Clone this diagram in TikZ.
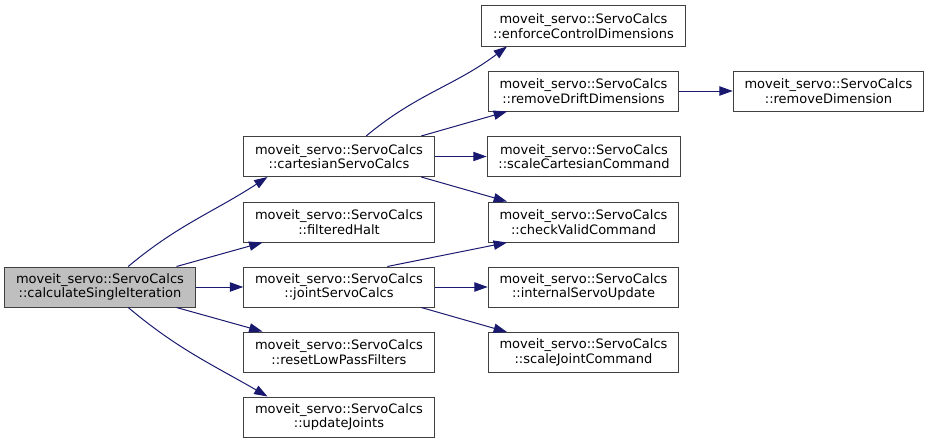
\documentclass[tikz,border=0pt]{standalone}
\usepackage{fontspec}
\newfontfamily\graphfont{DejaVu Sans}
\usetikzlibrary{arrows.meta}
\definecolor{edgeblue}{HTML}{191970}
\definecolor{rootgray}{HTML}{BFBFBF}
\newcommand{\svc}{moveit\_servo::ServoCalcs\\::}

\begin{document}
\begin{tikzpicture}[x=0.75pt,y=0.75pt,
  fn/.style={draw=black!75,line width=0.75pt,inner xsep=8.5pt,inner ysep=0pt,minimum height=30pt,
    align=center,font=\graphfont\fontsize{9.75}{11}\selectfont},
  call/.style={edgeblue,line width=0.75pt,-{Triangle[length=10pt,width=7pt]}}]
\useasboundingbox (0,0) rectangle (929,444);
% caller
\node[fn,fill=rootgray] (root) at (100,157) {\svc calculateSingleIteration};
% first level
\node[fn] (cart) at (339,287.5) {\svc cartesianServoCalcs};
\node[fn] (filt) at (339,222) {\svc filteredHalt};
\node[fn] (joint) at (339,157) {\svc jointServoCalcs};
\node[fn] (reset) at (339,92) {\svc resetLowPassFilters};
\node[fn] (upd) at (339,27) {\svc updateJoints};
% second level
\node[fn] (enf) at (583.5,418) {\svc enforceControlDimensions};
\node[fn] (drift) at (583.5,353) {\svc removeDriftDimensions};
\node[fn] (scalec) at (584,287.5) {\svc scaleCartesianCommand};
\node[fn] (check) at (583.5,222) {\svc checkValidCommand};
\node[fn] (intern) at (583.5,157) {\svc internalServoUpdate};
\node[fn] (scalej) at (583.5,91.5) {\svc scaleJointCommand};
\node[fn] (remdim) at (828.5,353) {\svc removeDimension};
% calls
\draw[call] (root.36.5) to[out=40,in=213] (cart.196);
\draw[call] (root.15) -- (filt.195);
\draw[call] (root) -- (joint);
\draw[call] (root.-15) -- (reset.165);
\draw[call] (root.-36.5) to[out=-40,in=150] (upd.164);
\draw[call] (cart.37) to[out=40,in=217] (enf.195);
\draw[call] (cart.14.4) -- (drift.195);
\draw[call] (cart) -- (scalec);
\draw[call] (cart.-14.4) -- (check.165);
\draw[call] (joint.23.5) -- (check.195);
\draw[call] (joint) -- (intern);
\draw[call] (joint.-14.7) -- (scalej.165);
\draw[call] (drift) -- (remdim);
\end{tikzpicture}
\end{document}
